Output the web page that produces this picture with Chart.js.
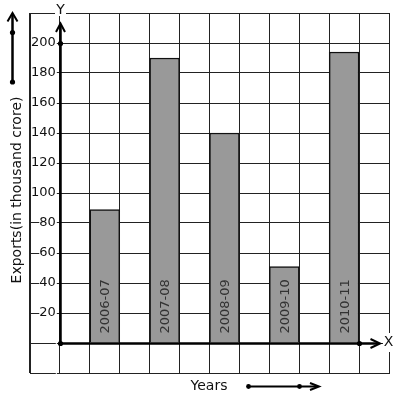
<!DOCTYPE html>
<html>
<head>
<meta charset="utf-8">
<script src="https://cdn.jsdelivr.net/npm/chart.js@4/dist/chart.umd.min.js"></script>
<style>
  html, body { margin: 0; padding: 0; background: #ffffff; }
  canvas { display: block; }
</style>
</head>
<body>
<canvas id="c" width="397" height="399"></canvas>
<script>
// ---- data ----
const years = ['2006-07', '2007-08', '2008-09', '2009-10', '2010-11'];
const exportsValues = [89, 190, 140, 51, 194];
const yTickLabels = [20, 40, 60, 80, 100, 120, 140, 160, 180, 200];
const yAxisTitle = 'Exports(in thousand crore)';
const xAxisTitle = 'Years';

// graph-paper columns: 12 columns, bars sit on every second column starting at column 2
const slotLabels = [];
const slotValues = [];
for (let i = 0; i < 12; i++) { slotLabels.push(''); slotValues.push(null); }
years.forEach((yr, i) => { slotLabels[2 + 2 * i] = yr; slotValues[2 + 2 * i] = exportsValues[i]; });

Chart.defaults.font.family = 'DejaVu Sans';

const ink = '#111111';
const gridInk = '#222222';

function dot(ctx, x, y, r) {
  ctx.beginPath(); ctx.arc(x, y, r, 0, Math.PI * 2); ctx.fill();
}
function chevron(ctx, tipX, tipY, dx1, dy1, dx2, dy2) {
  ctx.beginPath();
  ctx.moveTo(tipX + dx1, tipY + dy1);
  ctx.lineTo(tipX, tipY);
  ctx.lineTo(tipX + dx2, tipY + dy2);
  ctx.stroke();
}

const decorations = {
  id: 'decorations',
  afterDraw(chart) {
    const { ctx, scales: { x, y } } = chart;
    const colW = x.getPixelForValue(1) - x.getPixelForValue(0);
    const ox = Math.round(x.getPixelForValue(1) - colW / 2) + 0.5;
    const oy = Math.round(y.getPixelForValue(0)) + 0.5;
    const y200 = Math.round(y.getPixelForValue(200)) + 0.5;
    const xEnd = Math.round(x.getPixelForValue(11) - colW / 2) + 0.5;

    ctx.save();
    // bar labels inside bars
    const meta = chart.getDatasetMeta(0);
    ctx.fillStyle = '#333333';
    ctx.font = '13px "DejaVu Sans"';
    ctx.textAlign = 'left';
    ctx.textBaseline = 'alphabetic';
    meta.data.forEach((el, i) => {
      const lbl = slotLabels[i];
      if (!lbl) return;
      ctx.save();
      ctx.translate(el.x, oy - 10);
      ctx.rotate(-Math.PI / 2);
      ctx.fillText(lbl, 0, 4.5);
      ctx.restore();
    });

    // axes
    ctx.strokeStyle = '#000';
    ctx.fillStyle = '#000';
    ctx.lineWidth = 2.5;
    ctx.lineCap = 'butt';
    ctx.beginPath();
    ctx.moveTo(ox, oy); ctx.lineTo(ox, 24);
    ctx.moveTo(ox, oy); ctx.lineTo(379, oy);
    ctx.stroke();
    ctx.lineWidth = 2;
    chevron(ctx, ox, 23.5, -4.5, 8.5, 4.5, 8.5);
    chevron(ctx, 380, oy, -9.5, -4.5, -9.5, 4.5);
    dot(ctx, ox, oy, 2.6);
    dot(ctx, ox, y200, 2.6);
    dot(ctx, xEnd, oy, 2.6);

    // Y and X letters with white backgrounds
    ctx.font = '14px "DejaVu Sans"';
    ctx.textAlign = 'center';
    ctx.textBaseline = 'middle';
    ctx.fillStyle = '#fff';
    ctx.fillRect(55, 3, 11, 13);
    ctx.fillRect(383, 333, 11, 19);
    ctx.fillStyle = ink;
    ctx.fillText('Y', 60.5, 10);
    ctx.fillText('X', 388.5, 342.5);

    // y axis title
    ctx.save();
    ctx.translate(20.5, 190);
    ctx.rotate(-Math.PI / 2);
    ctx.textAlign = 'center';
    ctx.textBaseline = 'alphabetic';
    ctx.fillText(yAxisTitle, 0, 0);
    ctx.restore();

    // x axis title
    ctx.textAlign = 'left';
    ctx.textBaseline = 'alphabetic';
    ctx.fillText(xAxisTitle, 190.5, 390);

    // left decorative arrow
    ctx.strokeStyle = '#000';
    ctx.fillStyle = '#000';
    ctx.lineWidth = 2.5;
    ctx.beginPath(); ctx.moveTo(12.5, 82); ctx.lineTo(12.5, 14); ctx.stroke();
    ctx.lineWidth = 2;
    chevron(ctx, 12.5, 13, -5, 8.5, 5, 8.5);
    dot(ctx, 12.5, 32.5, 2.6);
    dot(ctx, 12.5, 82, 2.6);

    // bottom decorative arrow
    ctx.lineWidth = 2;
    ctx.beginPath(); ctx.moveTo(248.5, 386.5); ctx.lineTo(318, 386.5); ctx.stroke();
    chevron(ctx, 319, 386.5, -9, -3.5, -9, 3.5);
    dot(ctx, 248.5, 386.5, 2.4);
    dot(ctx, 299.5, 386.5, 2.4);
    ctx.restore();
  }
};

new Chart(document.getElementById('c'), {
  type: 'bar',
  data: {
    labels: slotLabels,
    datasets: [{
      data: slotValues,
      backgroundColor: '#999999',
      borderColor: ink,
      borderWidth: 1.5,
      borderSkipped: 'start',
      barPercentage: 1,
      categoryPercentage: 1
    }]
  },
  options: {
    responsive: false,
    animation: false,
    devicePixelRatio: 1,
    layout: { padding: { left: 28, right: 8, top: 13, bottom: 26 } },
    plugins: { legend: { display: false }, tooltip: { enabled: false }, title: { display: false } },
    scales: {
      x: {
        type: 'category',
        offset: true,
        grid: { offset: true, color: gridInk, lineWidth: 1, drawTicks: false },
        border: { display: true, color: gridInk, width: 1 },
        ticks: { display: false }
      },
      y: {
        min: -20,
        max: 220,
        grid: { color: gridInk, lineWidth: 1, drawTicks: false },
        border: { display: true, color: gridInk, width: 1 },
        ticks: {
          z: 1,
          stepSize: 20,
          autoSkip: false,
          mirror: true,
          crossAlign: 'far',
          padding: 1,
          color: ink,
          font: { family: 'DejaVu Sans', size: 13 },
          showLabelBackdrop: true,
          backdropColor: '#ffffff',
          backdropPadding: { top: 0, bottom: 0, left: 0, right: 1 },
          callback: (v) => (yTickLabels.includes(v) ? String(v) : '')
        }
      }
    }
  },
  plugins: [decorations]
});
</script>
</body>
</html>
